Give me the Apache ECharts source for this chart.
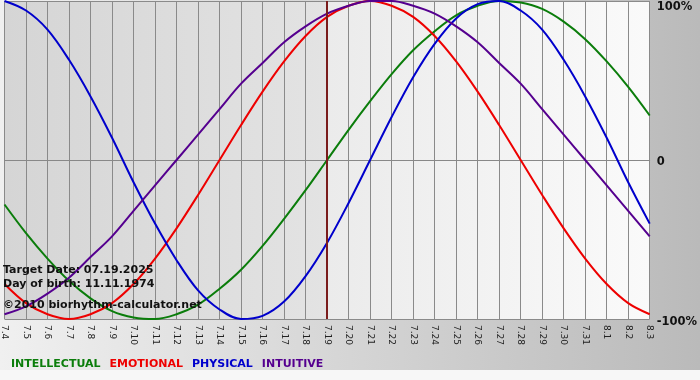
<!DOCTYPE html>
<html>
<head>
<meta charset="utf-8">
<script src="https://cdn.jsdelivr.net/npm/echarts@6/dist/echarts.min.js"></script>
<style>
html,body{margin:0;padding:0;background:#ffffff;}
#chart{width:700px;height:380px;}
</style>
</head>
<body>
<div id="chart"></div>
<script>
var categories = ['7.4','7.5','7.6','7.7','7.8','7.9','7.10','7.11','7.12','7.13','7.14','7.15','7.16','7.17','7.18','7.19','7.20','7.21','7.22','7.23','7.24','7.25','7.26','7.27','7.28','7.29','7.30','7.31','8.1','8.2','8.3'];
var intellectual = [-0.28,-0.46,-0.62,-0.76,-0.87,-0.95,-0.99,-1.00,-0.97,-0.91,-0.81,-0.69,-0.54,-0.37,-0.19,0.00,0.19,0.37,0.54,0.69,0.81,0.91,0.97,1.00,0.99,0.95,0.87,0.76,0.62,0.46,0.28];
var emotional = [-0.78,-0.90,-0.97,-1.00,-0.97,-0.90,-0.78,-0.62,-0.43,-0.22,0.00,0.22,0.43,0.62,0.78,0.90,0.97,1.00,0.97,0.90,0.78,0.62,0.43,0.22,0.00,-0.22,-0.43,-0.62,-0.78,-0.90,-0.97];
var physical = [1.00,0.94,0.82,0.63,0.40,0.14,-0.14,-0.40,-0.63,-0.82,-0.94,-1.00,-0.98,-0.89,-0.73,-0.52,-0.27,0.00,0.27,0.52,0.73,0.89,0.98,1.00,0.94,0.82,0.63,0.40,0.14,-0.14,-0.40];
var intuitive = [-0.97,-0.92,-0.84,-0.74,-0.61,-0.48,-0.32,-0.16,0.00,0.16,0.32,0.48,0.61,0.74,0.84,0.92,0.97,1.00,1.00,0.97,0.92,0.84,0.74,0.61,0.48,0.32,0.16,0.00,-0.16,-0.32,-0.48];
var seriesNames = ['INTELLECTUAL','EMOTIONAL','PHYSICAL','INTUITIVE'];
var seriesColors = ['#0b7d0b','#ee0000','#0000cc','#55008f'];
var yTickLabels = {'1':'100%','0':'0','-1':'-100%'};
var targetDay = '7.19';
var infoLines = ['Target Date: 07.19.2025','Day of birth: 11.11.1974','\u00a92010 biorhythm-calculator.net'];

var chart = echarts.init(document.getElementById('chart'), null, {renderer:'canvas'});
var font = 'DejaVu Sans, Verdana, sans-serif';
var dataArrays = [intellectual, emotional, physical, intuitive];

var series = seriesNames.map(function(n,i){
  var s = {
    name:n, type:'line', data:dataArrays[i], symbol:'none', smooth:0.35,
    lineStyle:{color:seriesColors[i], width:2}, itemStyle:{color:seriesColors[i]},
    z:3, animation:false
  };
  if(i===0){
    s.markLine = {
      silent:true, symbol:['none','none'], label:{show:false},
      lineStyle:{color:'#7a1c1c', width:2, type:'solid'},
      data:[{xAxis:targetDay}], animation:false
    };
  }
  return s;
});

var option = {
  animation:false,
  backgroundColor:{type:'linear',x:0,y:0,x2:1,y2:0,colorStops:[{offset:0,color:'#f0f0f0'},{offset:1,color:'#bababa'}]},
  grid:{
    left:0, right:49, top:1, bottom:61, show:true, borderWidth:0,
    backgroundColor:{type:'linear',x:0,y:0,x2:1,y2:0,colorStops:[
      {offset:0,color:'#d5d5d5'},{offset:0.5,color:'#e3e3e3'},
      {offset:0.5,color:'#ebebeb'},{offset:1,color:'#fafafa'}]}
  },
  legend:{
    left:1, top:354, icon:'none', itemWidth:0, itemHeight:10, itemGap:4,
    selectedMode:false,
    data:seriesNames.map(function(n,i){return {name:n, textStyle:{color:seriesColors[i]}};}),
    textStyle:{fontFamily:font, fontSize:11, fontWeight:'bold'}
  },
  xAxis:{
    type:'category', data:categories, boundaryGap:false,
    axisLine:{show:true, lineStyle:{color:'#888888', width:1}},
    axisTick:{show:true, length:4, interval:0, lineStyle:{color:'#888888'}},
    splitLine:{show:true, interval:0, lineStyle:{color:'#8a8a8a', width:1}},
    axisLabel:{interval:0, rotate:-90, margin:6, color:'#222222', fontFamily:font, fontSize:9}
  },
  yAxis:{
    type:'value', min:-1, max:1, interval:1, position:'right',
    axisLine:{show:false}, axisTick:{show:false},
    splitLine:{show:true, lineStyle:{color:'#8a8a8a', width:1}},
    axisLabel:{
      margin:7, color:'#111111', fontFamily:font, fontSize:11.5, fontWeight:'bold',
      formatter:function(v){
        var t = yTickLabels[String(v)];
        if(v===1) return '{a|'+t+'}';
        if(v===0) return '{b|'+t+'}';
        return '{c|'+t+'}';
      },
      rich:{
        a:{padding:[13,0,0,0], fontFamily:font, fontSize:11.5, fontWeight:'bold', color:'#111'},
        b:{padding:[4,0,0,0], fontFamily:font, fontSize:11.5, fontWeight:'bold', color:'#111'},
        c:{padding:[6,0,0,0], fontFamily:font, fontSize:11.5, fontWeight:'bold', color:'#111'}
      }
    }
  },
  graphic:[
    {type:'rect', left:0, top:370, shape:{width:700,height:10}, style:{fill:'#f7f7f7'}, z:0},
    {type:'text', left:3, top:265, z:10, style:{text:infoLines[0], fill:'#111', font:'bold 11px '+font}},
    {type:'text', left:3, top:279, z:10, style:{text:infoLines[1], fill:'#111', font:'bold 11px '+font}},
    {type:'text', left:3, top:300, z:10, style:{text:infoLines[2], fill:'#111', font:'bold 11px '+font}}
  ],
  series:series
};
chart.setOption(option);
</script>
</body>
</html>
